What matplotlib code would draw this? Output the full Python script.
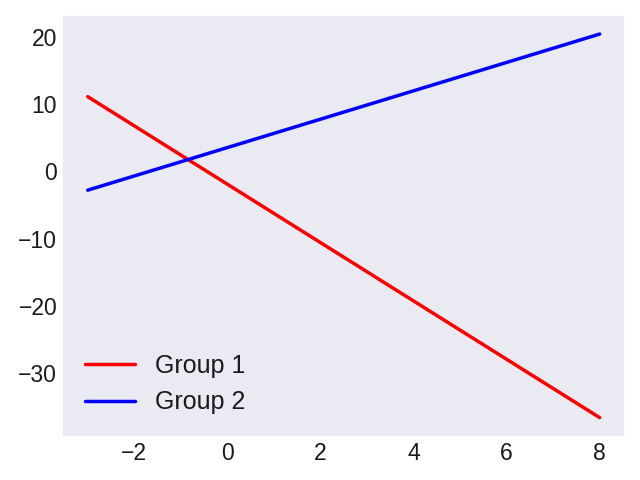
import matplotlib
matplotlib.use("Agg")
import matplotlib.pyplot as plt
import seaborn as sns

sns.set_theme(style="dark")
plt.rcParams['font.family'] = ['Liberation Sans', 'DejaVu Sans']

x_vals = [-3, 8]
group1 = [11.1, -36.6]
group2 = [-2.8, 20.4]
labels = ["Group 1", "Group 2"]

text_color = "#1a1a1a"

fig, ax = plt.subplots(figsize=(6.4, 4.8), dpi=100)
ax.plot(x_vals, group1, color="red", lw=2.5, label=labels[0])
ax.plot(x_vals, group2, color="blue", lw=2.5, label=labels[1])
ax.tick_params(labelsize=16.5, labelcolor=text_color, length=0, pad=3.5)
leg = ax.legend(loc="lower left", frameon=False, fontsize=18)
for t in leg.get_texts():
    t.set_color(text_color)
fig.subplots_adjust(left=0.097, right=0.977, top=0.969, bottom=0.09)
fig.savefig("out.png")
